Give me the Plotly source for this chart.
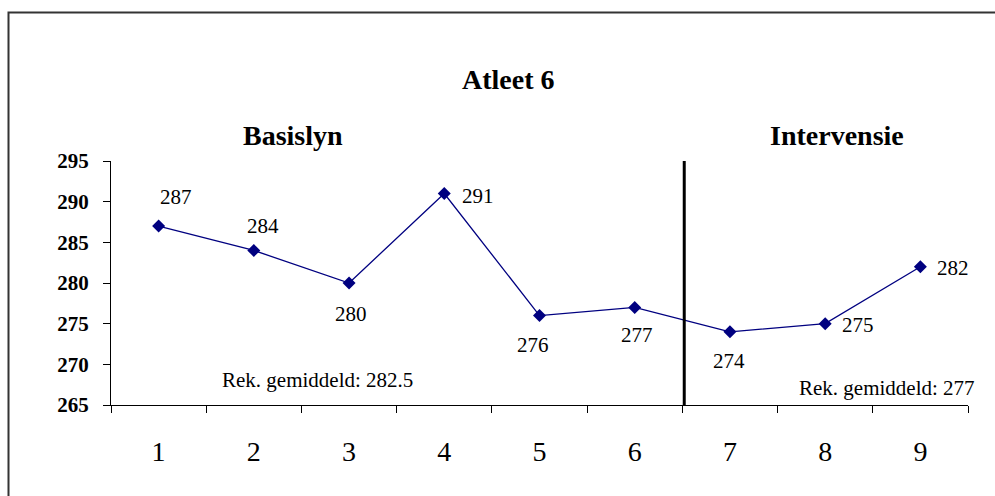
import plotly.graph_objects as go

# Session numbers and measured values
sessions = ["1", "2", "3", "4", "5", "6", "7", "8", "9"]
values = [287, 284, 280, 291, 276, 277, 274, 275, 282]

# Pixel offsets of each value label relative to its marker
label_dx = [17, 9, 2, 34, -7, 2, -1, 33, 33]
label_dy = [29, 24, -31, -2, -29, -28, -29, -1, -1]

y_ticks = [265, 270, 275, 280, 285, 290, 295]

SERIF = "Times New Roman, Liberation Serif, serif"
NAVY = "#000080"

W, H = 995, 496
L, R, T, B = 111, 27, 161, 91
PW, PH = W - L - R, H - T - B


def px_x(p):
    return (p - L) / PW


def px_y(p):
    return (H - B - p) / PH


fig = go.Figure()
fig.add_trace(go.Scatter(
    x=sessions, y=values, mode="lines+markers",
    line=dict(color=NAVY, width=1.3),
    marker=dict(symbol="diamond", size=10, color=NAVY),
    hoverinfo="skip", showlegend=False,
))

annotations = []
for i, (v, dx, dy) in enumerate(zip(values, label_dx, label_dy)):
    annotations.append(dict(
        x=i, y=v, xref="x", yref="y", text=str(v), showarrow=False,
        xanchor="center", yanchor="middle",
        xshift=dx, yshift=dy, font=dict(family=SERIF, size=21, color="black"),
    ))


def paper_text(x, y, text, size, anchor="center"):
    return dict(x=px_x(x), y=px_y(y), xref="paper", yref="paper", text=text,
                xanchor=anchor, yanchor="middle", showarrow=False,
                font=dict(family=SERIF, size=size, color="black"))


# Title, phase headings and phase averages
annotations += [
    paper_text(508, 80, "<b>Atleet 6</b>", 28),
    paper_text(293, 135, "<b>Basislyn</b>", 28),
    paper_text(837, 135, "<b>Intervensie</b>", 28),
    paper_text(317, 380, "Rek. gemiddeld: 282.5", 21),
    paper_text(977, 388, "Rek. gemiddeld: 277", 21, anchor="right"),
]

shapes = [
    # phase change line between session 6 and 7
    dict(type="line", xref="x", yref="y", x0=5.52, x1=5.52, y0=265, y1=295.1,
         line=dict(color="black", width=3)),
    # outer frame of the chart
    dict(type="rect", xref="paper", yref="paper",
         x0=px_x(8.5), x1=px_x(1010), y0=px_y(510), y1=px_y(12.5),
         line=dict(color="#333333", width=2), fillcolor="rgba(0,0,0,0)", layer="below"),
]

fig.update_layout(
    width=W, height=H,
    margin=dict(l=L, r=R, t=T, b=B),
    paper_bgcolor="white", plot_bgcolor="white",
    annotations=annotations, shapes=shapes,
    xaxis=dict(
        type="category", range=[-0.5, 8.5], tickson="boundaries",
        ticks="outside", ticklen=7, tickcolor="black", tickwidth=1,
        showline=True, linecolor="black", linewidth=1, showgrid=False, zeroline=False,
        tickfont=dict(family=SERIF, size=28, color="black"), ticklabelstandoff=21,
    ),
    yaxis=dict(
        range=[265, 295], tickvals=y_ticks, ticktext=[f"<b>{t}</b>" for t in y_ticks],
        ticks="outside", ticklen=7, tickcolor="black", tickwidth=1,
        showline=True, linecolor="black", linewidth=1, showgrid=False, zeroline=False,
        tickfont=dict(family=SERIF, size=21, color="black"), ticklabelstandoff=10,
    ),
)

fig.write_html("out.html")
